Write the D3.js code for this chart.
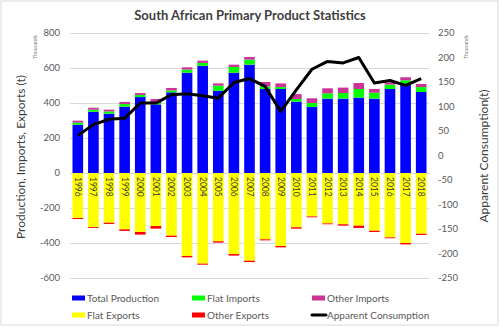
<!DOCTYPE html>
<html>
<head>
<meta charset="utf-8">
<script src="https://cdn.jsdelivr.net/npm/d3@7"></script>
<style>
  body { margin: 0; background: #fff; }
  svg text { font-family: Lato, "Open Sans", sans-serif; }
</style>
</head>
<body>
<svg id="chart" width="500" height="327"></svg>
<script>
// values (thousands of tonnes)
const years = d3.range(1996, 2019).map(String);
const production   = [276,350,339,379,434,392,461,573,613,470,573,619,480,480,408,377,425,425,431,425,480,505,463];
const flatImports  = [12,12,13,15,12,8,11,18,16,29,33,29,15,11,15,23,30,32,49,34,25,25,28];
const otherImports = [11,11,10,12,11,23,14,13,13,13,13,15,25,21,28,27,29,31,34,21,13,17,18];
const flatExports  = [257,309,284,322,337,303,358,474,518,390,463,501,379,417,310,248,288,293,301,330,368,400,347];
const otherExports = [6,5,7,9,15,15,8,8,6,8,9,8,6,8,8,5,5,8,13,7,5,8,7];
const consumption  = [41,63,74,76,107,107,124,126,122,117,149,157,141,90,134,176,192,189,200,148,153,143,157];

const leftTicks = [800,600,400,200,0,-200,-400,-600];
const rightTicks = [250,200,150,100,50,0,-50,-100,-150,-200,-250];

const keys = ["prod","flatImp","otherImp","flatExp","otherExp"];
const colors = {prod:"#0000ff", flatImp:"#00ff00", otherImp:"#cc3399", flatExp:"#ffff00", otherExp:"#ff0000"};

const data = years.map((y, i) => ({
  year: y,
  prod: production[i],
  flatImp: flatImports[i],
  otherImp: otherImports[i],
  flatExp: -flatExports[i],
  otherExp: -otherExports[i]
}));

const svg = d3.select("#chart");
const plotLeft = 70, plotRight = 429, plotTop = 33, plotBottom = 278;

// outer border
svg.append("rect").attr("x", 1).attr("y", 1).attr("width", 497).attr("height", 324)
  .attr("fill", "#fff").attr("stroke", "#d9d9d9");

const x = d3.scaleBand().domain(years).range([plotLeft, plotRight]).paddingInner(0.32).paddingOuter(0.16);
const y = d3.scaleLinear().domain([-600, 800]).range([plotBottom, plotTop]);
const y2 = d3.scaleLinear().domain([-250, 250]).range([plotBottom, plotTop]);

// gridlines
svg.append("g").selectAll("line").data(leftTicks).join("line")
  .attr("x1", plotLeft).attr("x2", plotRight)
  .attr("y1", d => y(d) + 0.5).attr("y2", d => y(d) + 0.5)
  .attr("stroke", "#d9d9d9").attr("stroke-width", 1);

// left axis labels
svg.append("g").selectAll("text").data(leftTicks).join("text")
  .attr("x", 60).attr("y", d => y(d)).attr("dy", "0.35em")
  .attr("text-anchor", "end").attr("font-size", 9.5).attr("fill", "#595959")
  .text(d => d);

// right axis labels
svg.append("g").selectAll("text").data(rightTicks).join("text")
  .attr("x", 438).attr("y", d => y2(d)).attr("dy", "0.35em")
  .attr("text-anchor", "start").attr("font-size", 9.5).attr("fill", "#595959")
  .text(d => d);

// stacked bars
const series = d3.stack().keys(keys).offset(d3.stackOffsetDiverging)(data);
svg.append("g").selectAll("g").data(series).join("g")
  .attr("fill", d => colors[d.key])
  .selectAll("rect").data(d => d).join("rect")
  .attr("x", d => x(d.data.year))
  .attr("width", x.bandwidth())
  .attr("y", d => y(Math.max(d[0], d[1])))
  .attr("height", d => Math.abs(y(d[0]) - y(d[1])));

// year labels inside export bars
svg.append("g").selectAll("text").data(years).join("text")
  .attr("transform", d => `translate(${x(d) + x.bandwidth() / 2},${y(0) + 4}) rotate(90)`)
  .attr("dy", "0.35em")
  .attr("font-size", 8.5).attr("fill", "#404040")
  .text(d => d);

// apparent consumption line
const line = d3.line()
  .x((d, i) => x(years[i]) + x.bandwidth() / 2)
  .y(d => y2(d));
svg.append("path").datum(consumption)
  .attr("d", line).attr("fill", "none")
  .attr("stroke", "#000").attr("stroke-width", 3).attr("stroke-linejoin", "round");

// title
svg.append("text").attr("x", 250).attr("y", 15).attr("dy", "0.35em")
  .attr("text-anchor", "middle").attr("font-size", 13).attr("font-weight", "bold")
  .attr("fill", "#404040").text("South African Primary Product Statistics");

// axis titles
svg.append("text").attr("transform", "translate(21,157) rotate(-90)").attr("dy", "0.35em")
  .attr("text-anchor", "middle").attr("font-size", 12)
  .attr("fill", "#404040").text("Production, Imports, Exports (t)");
svg.append("text").attr("transform", "translate(484,156) rotate(-90)").attr("dy", "0.35em")
  .attr("text-anchor", "middle").attr("font-size", 12)
  .attr("fill", "#404040").text("Apparent Consumption(t)");
svg.append("text").attr("transform", "translate(35,35) rotate(-90)").attr("dy", "0.35em")
  .attr("text-anchor", "end").attr("font-size", 5).attr("fill", "#7f7f7f").text("Thousands");
svg.append("text").attr("transform", "translate(466,35) rotate(-90)").attr("dy", "0.35em")
  .attr("text-anchor", "end").attr("font-size", 5).attr("fill", "#7f7f7f").text("Thousands");

// legend
const legendItems = [
  {label: "Total Production", color: colors.prod, type: "bar", col: 0, row: 0},
  {label: "Flat Imports", color: colors.flatImp, type: "bar", col: 1, row: 0},
  {label: "Other Imports", color: colors.otherImp, type: "bar", col: 2, row: 0},
  {label: "Flat Exports", color: colors.flatExp, type: "bar", col: 0, row: 1},
  {label: "Other Exports", color: colors.otherExp, type: "bar", col: 1, row: 1},
  {label: "Apparent Consumption", color: "#000", type: "line", col: 2, row: 1}
];
const colX = [72, 192, 312];
const rowY = [298, 315];
const lg = svg.append("g").selectAll("g").data(legendItems).join("g")
  .attr("transform", d => `translate(${colX[d.col]},${rowY[d.row]})`);
lg.filter(d => d.type === "bar").append("rect")
  .attr("x", 0).attr("y", -2.5).attr("width", 13).attr("height", 5).attr("fill", d => d.color);
lg.filter(d => d.type === "line").append("line")
  .attr("x1", 0).attr("x2", 14).attr("y1", 0).attr("y2", 0)
  .attr("stroke", "#000").attr("stroke-width", 3).attr("stroke-linecap", "round");
lg.append("text").attr("x", 15).attr("dy", "0.35em")
  .attr("font-size", 10).attr("fill", "#595959").text(d => d.label);
</script>
</body>
</html>
